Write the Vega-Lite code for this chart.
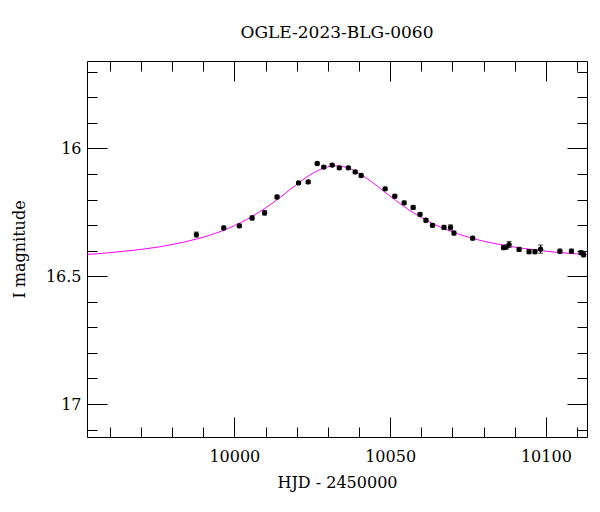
{
  "$schema": "https://vega.github.io/schema/vega-lite/v6.json",
  "width": 500,
  "height": 376,
  "autosize": {"type": "none"},
  "padding": {"left": 87, "top": 61, "right": 13, "bottom": 75},
  "background": "white",
  "title": {"text": "OGLE-2023-BLG-0060", "font": "DejaVu Serif", "fontSize": 17, "fontWeight": "normal", "color": "black", "offset": 6, "baseline": "alphabetic", "anchor": "middle", "frame": "group"},
  "config": {
    "view": {"stroke": null},
    "axis": {"grid": false, "domainColor": "black", "tickColor": "black", "labelFont": "DejaVu Serif", "titleFont": "DejaVu Serif", "labelFontSize": 16, "titleFontSize": 16, "labelColor": "black", "titleColor": "black", "titleFontWeight": "normal", "domainWidth": 1, "tickWidth": 1, "labelFlush": false, "labelOverlap": false}
  },
  "datasets": {
    "obs": [
      {"t": 9987.8, "mag": 16.337, "err": 0.010},
      {"t": 9996.6, "mag": 16.311, "err": 0.007},
      {"t": 10001.6, "mag": 16.303, "err": 0.007},
      {"t": 10005.7, "mag": 16.272, "err": 0.008},
      {"t": 10009.7, "mag": 16.252, "err": 0.009},
      {"t": 10013.7, "mag": 16.190, "err": 0.007},
      {"t": 10020.6, "mag": 16.135, "err": 0.006},
      {"t": 10023.7, "mag": 16.131, "err": 0.006},
      {"t": 10026.6, "mag": 16.059, "err": 0.006},
      {"t": 10028.7, "mag": 16.073, "err": 0.006},
      {"t": 10031.4, "mag": 16.065, "err": 0.006},
      {"t": 10033.7, "mag": 16.076, "err": 0.006},
      {"t": 10036.6, "mag": 16.076, "err": 0.006},
      {"t": 10038.8, "mag": 16.092, "err": 0.006},
      {"t": 10040.7, "mag": 16.106, "err": 0.006},
      {"t": 10048.4, "mag": 16.158, "err": 0.006},
      {"t": 10051.5, "mag": 16.187, "err": 0.007},
      {"t": 10054.5, "mag": 16.213, "err": 0.007},
      {"t": 10057.4, "mag": 16.231, "err": 0.007},
      {"t": 10059.6, "mag": 16.258, "err": 0.007},
      {"t": 10061.5, "mag": 16.281, "err": 0.007},
      {"t": 10063.6, "mag": 16.301, "err": 0.007},
      {"t": 10067.3, "mag": 16.309, "err": 0.008},
      {"t": 10069.4, "mag": 16.309, "err": 0.010},
      {"t": 10070.5, "mag": 16.331, "err": 0.008},
      {"t": 10076.5, "mag": 16.351, "err": 0.007},
      {"t": 10086.4, "mag": 16.388, "err": 0.008},
      {"t": 10087.2, "mag": 16.386, "err": 0.008},
      {"t": 10088.2, "mag": 16.376, "err": 0.012},
      {"t": 10091.4, "mag": 16.395, "err": 0.008},
      {"t": 10094.6, "mag": 16.404, "err": 0.008},
      {"t": 10096.5, "mag": 16.404, "err": 0.008},
      {"t": 10098.3, "mag": 16.394, "err": 0.016},
      {"t": 10104.5, "mag": 16.402, "err": 0.008},
      {"t": 10108.2, "mag": 16.402, "err": 0.008},
      {"t": 10111.3, "mag": 16.408, "err": 0.008},
      {"t": 10112.1, "mag": 16.416, "err": 0.008}
    ],
    "model": [
      {"t": 9952, "mag": 16.415}, {"t": 9956, "mag": 16.412}, {"t": 9960, "mag": 16.408}, {"t": 9964, "mag": 16.403},
      {"t": 9968, "mag": 16.398}, {"t": 9972, "mag": 16.392}, {"t": 9976, "mag": 16.385}, {"t": 9980, "mag": 16.376},
      {"t": 9984, "mag": 16.366}, {"t": 9988, "mag": 16.354}, {"t": 9992, "mag": 16.340}, {"t": 9996, "mag": 16.323},
      {"t": 10000, "mag": 16.302}, {"t": 10004, "mag": 16.278}, {"t": 10008, "mag": 16.249}, {"t": 10012, "mag": 16.216},
      {"t": 10016, "mag": 16.179}, {"t": 10020, "mag": 16.141}, {"t": 10024, "mag": 16.106}, {"t": 10028, "mag": 16.080},
      {"t": 10032, "mag": 16.068}, {"t": 10036, "mag": 16.074}, {"t": 10040, "mag": 16.097}, {"t": 10044, "mag": 16.130},
      {"t": 10048, "mag": 16.168}, {"t": 10052, "mag": 16.205}, {"t": 10056, "mag": 16.240}, {"t": 10060, "mag": 16.270},
      {"t": 10064, "mag": 16.296}, {"t": 10068, "mag": 16.317}, {"t": 10072, "mag": 16.335}, {"t": 10076, "mag": 16.350},
      {"t": 10080, "mag": 16.363}, {"t": 10084, "mag": 16.373}, {"t": 10088, "mag": 16.382}, {"t": 10092, "mag": 16.390},
      {"t": 10096, "mag": 16.396}, {"t": 10100, "mag": 16.402}, {"t": 10104, "mag": 16.407}, {"t": 10108, "mag": 16.411},
      {"t": 10112, "mag": 16.414}, {"t": 10116, "mag": 16.418}
    ]
  },
  "layer": [
    {
      "data": {"name": "model"},
      "mark": {"type": "line", "color": "#ff00ff", "strokeWidth": 1, "clip": true, "interpolate": "monotone"},
      "encoding": {
        "x": {"field": "t", "type": "quantitative", "scale": {"domain": [9952.7, 10113.2], "nice": false, "zero": false},
              "axis": {"orient": "bottom", "values": [10000, 10050, 10100], "format": "d", "ticks": false, "domain": true, "labelPadding": 11, "title": "HJD - 2450000", "titlePadding": 10}},
        "y": {"field": "mag", "type": "quantitative", "scale": {"domain": [15.658, 17.129], "reverse": true, "nice": false, "zero": false},
              "axis": {"orient": "left", "values": [16, 16.5, 17], "format": "~g", "ticks": false, "domain": true, "labelPadding": 6, "title": "I magnitude", "titlePadding": 18}}
      }
    },
    {
      "data": {"name": "obs"},
      "mark": {"type": "errorbar", "color": "black", "thickness": 1, "ticks": {"size": 5, "thickness": 1, "color": "black"}},
      "encoding": {
        "x": {"field": "t", "type": "quantitative", "axis": null},
        "y": {"field": "mag", "type": "quantitative", "axis": null},
        "yError": {"field": "err"}
      }
    },
    {
      "data": {"name": "obs"},
      "mark": {"type": "point", "shape": "circle", "filled": true, "color": "black", "size": 28, "opacity": 1},
      "encoding": {
        "x": {"field": "t", "type": "quantitative", "axis": {"orient": "bottom", "values": [10000, 10050, 10100], "labels": false, "tickSize": -20, "domain": false, "title": null}},
        "y": {"field": "mag", "type": "quantitative", "axis": {"orient": "left", "values": [16, 16.5, 17], "labels": false, "tickSize": -20, "domain": false, "title": null}}
      }
    },
    {
      "data": {"name": "obs"},
      "mark": {"type": "point", "opacity": 0},
      "encoding": {
        "x": {"field": "t", "type": "quantitative", "axis": {"orient": "bottom", "values": [9960, 9970, 9980, 9990, 10010, 10020, 10030, 10040, 10060, 10070, 10080, 10090, 10110], "labels": false, "tickSize": -10, "domain": false, "title": null}},
        "y": {"field": "mag", "type": "quantitative", "axis": {"orient": "left", "values": [15.7, 15.8, 15.9, 16.1, 16.2, 16.3, 16.4, 16.6, 16.7, 16.8, 16.9, 17.1], "labels": false, "tickSize": -10, "domain": false, "title": null}}
      }
    },
    {
      "data": {"name": "obs"},
      "mark": {"type": "point", "opacity": 0},
      "encoding": {
        "x": {"field": "t", "type": "quantitative", "axis": {"orient": "top", "values": [10000, 10050, 10100], "labels": false, "tickSize": -20, "domain": true, "title": null}},
        "y": {"field": "mag", "type": "quantitative", "axis": {"orient": "right", "values": [16, 16.5, 17], "labels": false, "tickSize": -20, "domain": true, "title": null}}
      }
    },
    {
      "data": {"name": "obs"},
      "mark": {"type": "point", "opacity": 0},
      "encoding": {
        "x": {"field": "t", "type": "quantitative", "axis": {"orient": "top", "values": [9960, 9970, 9980, 9990, 10010, 10020, 10030, 10040, 10060, 10070, 10080, 10090, 10110], "labels": false, "tickSize": -10, "domain": false, "title": null}},
        "y": {"field": "mag", "type": "quantitative", "axis": {"orient": "right", "values": [15.7, 15.8, 15.9, 16.1, 16.2, 16.3, 16.4, 16.6, 16.7, 16.8, 16.9, 17.1], "labels": false, "tickSize": -10, "domain": false, "title": null}}
      }
    }
  ],
  "resolve": {"axis": {"x": "independent", "y": "independent"}}
}
